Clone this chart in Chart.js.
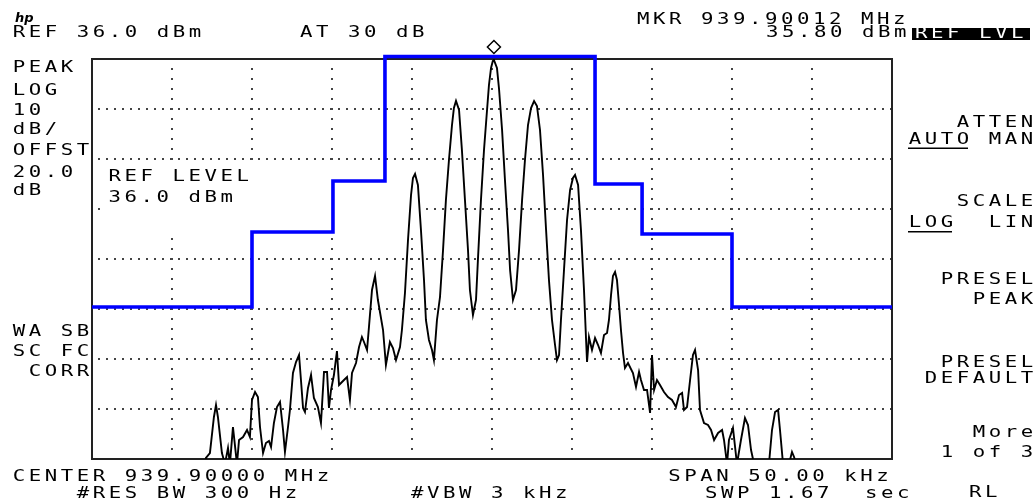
<!DOCTYPE html>
<html><head><meta charset="utf-8">
<script src="https://cdn.jsdelivr.net/npm/chart.js@4.4.1/dist/chart.umd.min.js"></script>
<style>html,body{margin:0;padding:0;background:#fff;overflow:hidden}canvas{display:block}</style>
</head><body>
<canvas id="c" width="1036" height="503"></canvas>
<script>
// ---- instrument settings ----
const centerMHz = 939.90000;
const spanKHz = 50;
const refLevelDbm = 36.0;
const dbPerDiv = 10;
const xGridKHz = [-25,-20,-15,-10,-5,0,5,10,15,20,25];
const yGridDbm = [-44,-34,-24,-14,-4,6,16,26,36];

// ---- measured trace (offset from center in kHz, level in dBm; -45 = below screen) ----
const traceKHz = [-25,-17.94,-17.88,-17.63,-17.38,-17.25,-17.13,-16.88,-16.69,-16.5,-16.38,-16.19,-15.94,-15.81,-15.56,-15.31,-15.13,-15.0,-14.81,-14.63,-14.5,-14.31,-14.13,-13.94,-13.81,-13.63,-13.44,-13.25,-13.06,-12.94,-12.75,-12.63,-12.44,-12.25,-12.06,-11.94,-11.81,-11.69,-11.5,-11.31,-11.13,-10.88,-10.69,-10.5,-10.31,-10.19,-10.06,-9.88,-9.69,-9.56,-9.25,-9.06,-8.88,-8.75,-8.5,-8.31,-8.13,-8.0,-7.81,-7.69,-7.5,-7.31,-7.13,-6.81,-6.63,-6.38,-6.19,-6.0,-5.75,-5.63,-5.44,-5.25,-5.06,-4.94,-4.81,-4.63,-4.44,-4.25,-4.13,-3.94,-3.75,-3.63,-3.44,-3.25,-3.06,-2.88,-2.69,-2.5,-2.38,-2.25,-2.06,-1.88,-1.69,-1.5,-1.38,-1.19,-1.0,-0.88,-0.69,-0.5,-0.31,-0.19,-0.06,0.05,0.12,0.31,0.44,0.63,0.81,1.0,1.13,1.31,1.5,1.69,1.88,2.06,2.25,2.44,2.63,2.81,3.0,3.19,3.38,3.56,3.75,3.94,4.06,4.19,4.31,4.5,4.69,4.88,5.06,5.19,5.38,5.56,5.75,5.88,5.94,6.06,6.25,6.44,6.63,6.81,7.0,7.19,7.31,7.44,7.56,7.69,7.81,7.94,8.06,8.19,8.31,8.5,8.81,9.0,9.19,9.31,9.5,9.69,9.88,10.0,10.13,10.31,10.5,10.75,11.0,11.25,11.5,11.69,11.88,12.0,12.19,12.38,12.56,12.69,12.88,13.0,13.25,13.5,13.69,13.88,14.13,14.38,14.5,14.69,14.81,15.06,15.31,15.56,15.81,16.0,16.19,16.38,17.31,17.5,17.69,17.88,18.0,18.19,18.56,18.75,18.88,19.0,25];
const traceDbm = [-45,-45,-43.8,-42.8,-35.6,-33.2,-35.6,-42.8,-45,-41.8,-45,-37.6,-45,-40.2,-39.6,-38.2,-39.6,-32.2,-30.6,-31.6,-37.6,-42.8,-40.8,-40.4,-41.6,-36.8,-33.6,-32.6,-38.2,-42.6,-37.6,-34.2,-26.8,-24.6,-23.2,-28.2,-33.8,-34.6,-29.8,-27.2,-31.8,-33.6,-36.8,-26.6,-26.6,-33.8,-30.2,-27.2,-22.4,-29.2,-28.2,-27.6,-32.2,-26.8,-24.8,-21.6,-19.6,-20.6,-22.2,-17.6,-10.2,-7.4,-12.2,-18.2,-25.2,-20.6,-21.8,-24.2,-21.6,-18.2,-10.8,-0.2,8.8,12.2,13.0,10.8,1.8,-8.2,-16.2,-20.2,-22.2,-24.2,-16.2,-11.6,-2.2,7.8,15.8,22.8,26.2,27.6,25.8,17.8,7.8,-2.2,-10.2,-15.2,-12.2,-4.2,7.8,17.8,25.8,30.8,34.2,35.6,35.8,34.2,30.0,21.8,11.8,1.8,-6.2,-12.2,-10.2,-2.2,7.8,15.8,22.8,26.2,27.6,26.6,21.8,12.8,1.8,-8.2,-16.2,-21.2,-24.2,-23.2,-16.2,-6.2,3.8,9.8,12.2,12.8,10.8,1.8,-10.2,-20.2,-24.6,-19.6,-22.2,-19.8,-21.2,-22.8,-19.2,-18.8,-16.2,-11.2,-7.4,-6.6,-8.2,-13.2,-18.2,-22.8,-25.8,-24.8,-26.8,-29.6,-26.6,-28.2,-30.2,-30.2,-34.8,-23.2,-30.2,-28.2,-29.2,-30.6,-31.6,-32.2,-33.6,-31.2,-30.8,-34.2,-33.6,-28.2,-23.2,-22.2,-26.2,-34.2,-36.8,-37.2,-38.2,-40.2,-38.8,-38.2,-40.2,-45,-40.2,-37.8,-45,-40.2,-35.8,-37.2,-42.2,-45,-45,-38.2,-34.6,-34.2,-38.2,-45,-45,-42.6,-43.6,-45,-45];

// ---- limit mask (blue) ----
const maskKHz = [-25,-15,-15,-9.94,-9.94,-6.69,-6.69,6.44,6.44,9.38,9.38,15,15,25];
const maskDbm = [-13.6,-13.6,1.4,1.4,11.6,11.6,36.5,36.5,11.0,11.0,1.0,1.0,-13.6,-13.6];

// ---- marker ----
const markerKHz = [0.12];
const markerDbm = [35.8];

// ---- HP screen text ----
const PITCH = 16;
const FONT_PX = 15;
const SX = 1.38;
function hpText(ctx, s, x, y, color) {
  ctx.save();
  ctx.font = FONT_PX + 'px "DejaVu Sans Mono", "Liberation Mono", monospace';
  ctx.fillStyle = color || '#000';
  ctx.textBaseline = 'alphabetic';
  ctx.translate(x, y);
  ctx.scale(SX, 1);
  const adv = ctx.measureText('M').width;
  if ('letterSpacing' in ctx) {
    ctx.letterSpacing = (PITCH / SX - adv) + 'px';
    ctx.fillText(s, 0, 0);
  } else {
    for (let i = 0; i < s.length; i++) ctx.fillText(s[i], i * PITCH / SX, 0);
  }
  ctx.restore();
}
function hpRight(ctx, s, lastCellX, y, color) {
  hpText(ctx, s, lastCellX - (s.length - 1) * PITCH, y, color);
}

const screenPlugin = {
  id: 'screen',
  beforeDatasetsDraw(chart) {
    const ctx = chart.ctx, a = chart.chartArea;
    ctx.save();
    ctx.strokeStyle = '#222';
    ctx.lineWidth = 2;
    ctx.strokeRect(a.left, a.top, a.right - a.left, a.bottom - a.top);
    ctx.fillStyle = '#fff';
    ctx.fillRect(a.left + 12, 162, 320, 73);
    ctx.restore();
    hpText(ctx, 'REF LEVEL', 108.5, 181);
    hpText(ctx, '36.0 dBm', 108.5, 201.5);
  },
  afterDraw(chart) {
    const ctx = chart.ctx;
    const xs = chart.scales.x, ys = chart.scales.y;
    const mx = xs.getPixelForValue(markerKHz[0]);
    const my = ys.getPixelForValue(markerDbm[0]);
    const cy = my - 13, r = 6.5;
    ctx.save();
    ctx.strokeStyle = '#000'; ctx.fillStyle = '#fff'; ctx.lineWidth = 1.5;
    ctx.beginPath();
    ctx.moveTo(mx, cy - r); ctx.lineTo(mx + r, cy); ctx.lineTo(mx, cy + r); ctx.lineTo(mx - r, cy); ctx.closePath();
    ctx.fill(); ctx.stroke();
    ctx.restore();

    ctx.save();
    ctx.font = 'italic bold 13px "DejaVu Sans", sans-serif';
    ctx.fillStyle = '#000';
    ctx.fillText('hp', 15, 22);
    ctx.restore();

    hpText(ctx, 'REF 36.0 dBm', 12.7, 37);
    hpText(ctx, 'AT 30 dB', 300, 37);
    hpText(ctx, 'MKR 939.90012 MHz', 637, 24);
    hpText(ctx, '35.80 dBm', 766, 37);
    ctx.save(); ctx.fillStyle = '#000'; ctx.fillRect(912, 28, 118, 12); ctx.restore();
    hpText(ctx, 'REF LVL', 915, 38, '#fff');

    const left = [['PEAK',72],['LOG',95],['10',115],['dB/',134],['OFFST',155],['20.0',177],['dB',195],['WA SB',336],['SC FC',356]];
    left.forEach(([t,y]) => hpText(ctx, t, 12.7, y));
    hpText(ctx, 'CORR', 28.7, 376);

    const R = 1020.7;
    const keys = [['ATTEN',126.7],['AUTO MAN',144],['SCALE',206],['LOG  LIN',226.7],['PRESEL',284],['PEAK',304],['PRESEL',367],['DEFAULT',383],['More',437],['1 of 3',457]];
    keys.forEach(([t,y]) => hpRight(ctx, t, R, y));
    ctx.save(); ctx.fillStyle = '#000';
    ctx.fillRect(908, 147.5, 60, 1.5);
    ctx.fillRect(908, 231, 44, 1.5);
    ctx.restore();
    hpText(ctx, 'RL', 969, 497);

    hpText(ctx, 'CENTER 939.90000 MHz', 12.7, 480.7);
    hpText(ctx, 'SPAN 50.00 kHz', 668.3, 480.7);
    hpText(ctx, '#RES BW 300 Hz', 76.7, 498);
    hpText(ctx, '#VBW 3 kHz', 411, 498);
    hpText(ctx, 'SWP 1.67  sec', 705, 498);
  }
};

const gridColor = '#444';
new Chart(document.getElementById('c'), {
  type: 'line',
  data: {
    datasets: [
      {
        label: 'mask',
        data: maskKHz.map((x, i) => ({x, y: maskDbm[i]})),
        borderColor: '#0000ff', borderWidth: 3.6, pointRadius: 0, tension: 0,
        clip: false, order: 0, fill: false
      },
      {
        label: 'trace',
        data: traceKHz.map((x, i) => ({x, y: traceDbm[i]})),
        borderColor: '#000', borderWidth: 1.9, pointRadius: 0, tension: 0,
        order: 1, fill: false, borderJoinStyle: 'miter'
      }
    ]
  },
  options: {
    responsive: false, animation: false, devicePixelRatio: 1,
    layout: {padding: {left: 92, right: 144, top: 59, bottom: 44}, autoPadding: false},
    plugins: {legend: {display: false}, tooltip: {enabled: false}, title: {display: false}},
    scales: {
      x: {
        type: 'linear', min: -spanKHz / 2, max: spanKHz / 2,
        afterBuildTicks: s => { s.ticks = xGridKHz.map(v => ({value: v})); },
        ticks: {display: false},
        grid: {color: gridColor, lineWidth: 2, drawTicks: false},
        border: {display: false, dash: [2, 8], dashOffset: 1}
      },
      y: {
        type: 'linear', min: refLevelDbm - 8 * dbPerDiv, max: refLevelDbm,
        afterBuildTicks: s => { s.ticks = yGridDbm.map(v => ({value: v})); },
        ticks: {display: false},
        grid: {color: gridColor, lineWidth: 2, drawTicks: false},
        border: {display: false, dash: [2, 6], dashOffset: 2}
      }
    }
  },
  plugins: [screenPlugin]
});
</script>
</body></html>
